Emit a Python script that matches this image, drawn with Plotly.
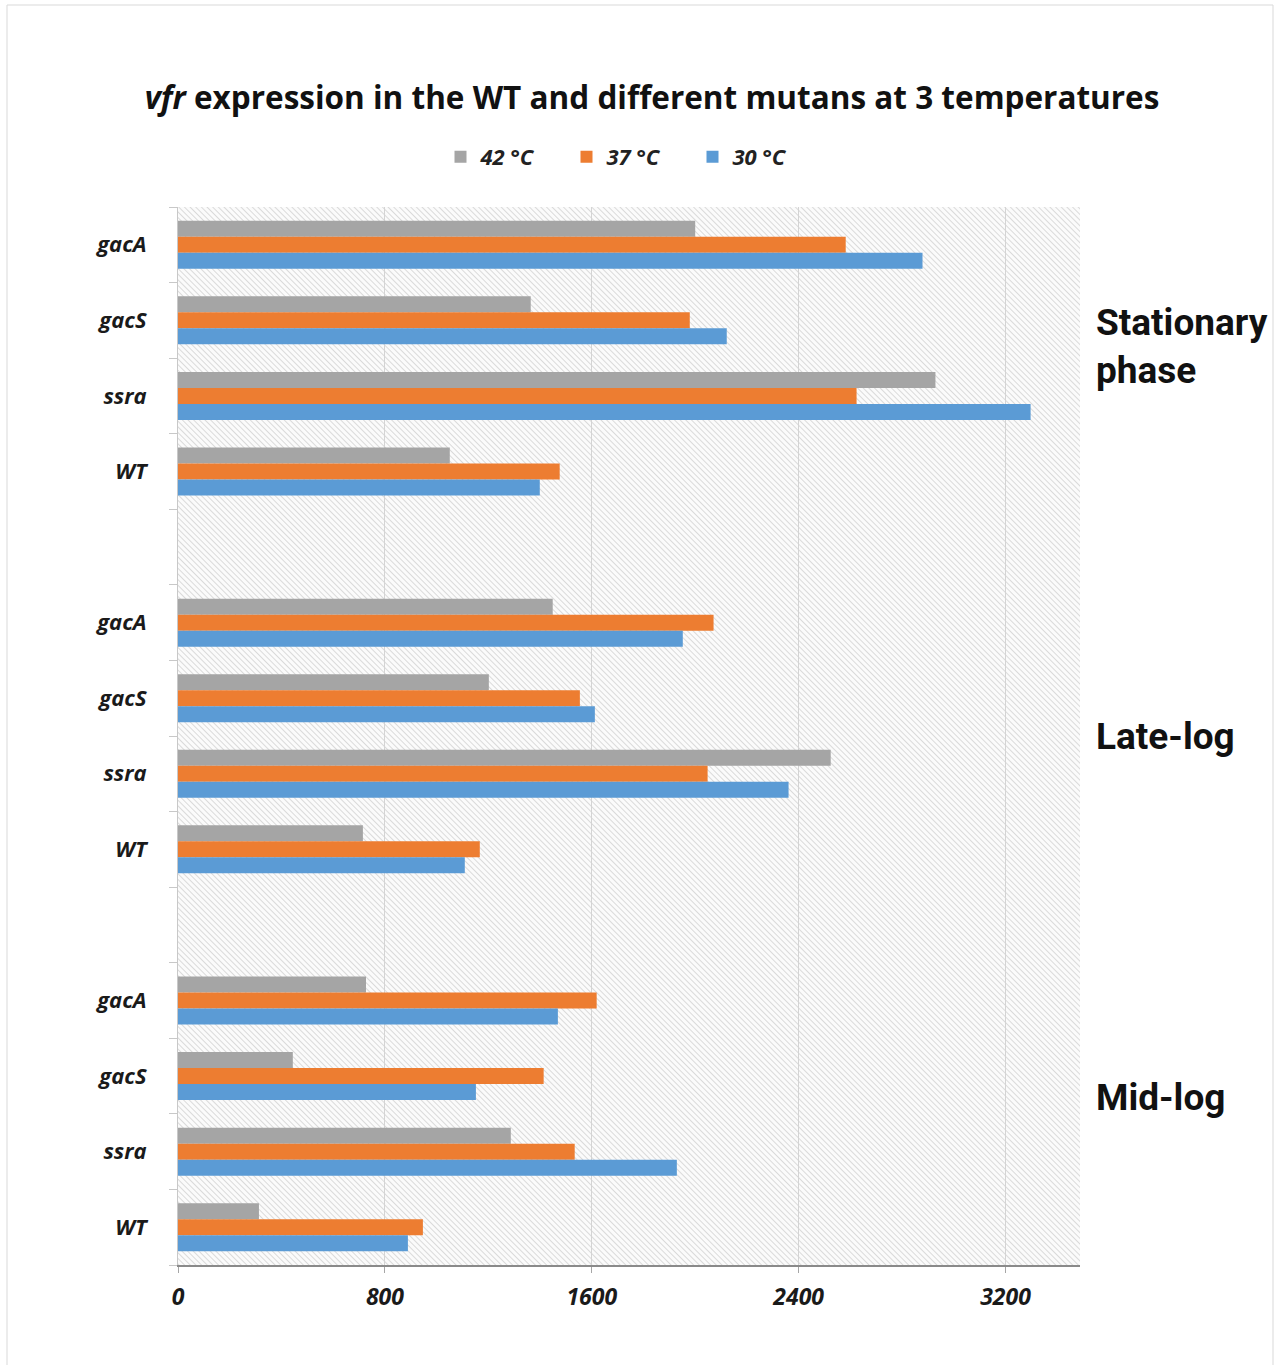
import base64
import plotly.graph_objects as go

# vfr expression per strain, grouped by growth phase (top to bottom)
phases = ["Stationary<br>phase", "Late-log", "Mid-log"]
strains = ["gacA", "gacS", "ssra", "WT"]
series_names = ["42 °C", "37 °C", "30 °C"]
series_colors = ["#A5A5A5", "#ED7D31", "#5B9BD5"]

t42 = [2000, 1364, 2929, 1051, 1449, 1202, 2524, 715, 727, 444, 1287, 313]
t37 = [2582, 1979, 2624, 1476, 2071, 1554, 2048, 1167, 1619, 1414, 1534, 947]
t30 = [2879, 2122, 3297, 1399, 1952, 1612, 2361, 1109, 1469, 1152, 1929, 889]
series_values = [t42, t37, t30]

x_ticks = [0, 800, 1600, 2400, 3200]

# one blank row between phase blocks
rows_per_block = len(strains) + 1
y_pos = [g * rows_per_block + i for g in range(len(phases)) for i in range(len(strains))]
y_text = [s for _ in phases for s in strains]
n_rows = len(phases) * rows_per_block - 1

# vertical anchor (in row units) of each phase label
phase_label_rows = [1.34, 6.5, 11.28]

W, H = 1276, 1365
ML, MR, MT, MB = 178, 196, 207, 100
PW, PH = W - ML - MR, H - MT - MB

fig = go.Figure()
for name, vals, col in zip(series_names, series_values, series_colors):
    fig.add_trace(go.Bar(
        x=vals, y=y_pos, orientation="h", name=name,
        marker=dict(color=col, line=dict(width=0)),
    ))

# diagonal hatch behind the plot area
svg = (
    f'<svg xmlns="http://www.w3.org/2000/svg" width="{PW}" height="{PH}" '
    f'viewBox="0 0 {PW} {PH}" preserveAspectRatio="none">'
    '<defs><pattern id="h" width="4" height="4" patternUnits="userSpaceOnUse" '
    'patternTransform="rotate(-45)">'
    '<rect width="4" height="4" fill="#fbfbfb"/>'
    '<line x1="0" y1="0" x2="0" y2="4" stroke="#d2d2d2" stroke-width="1.6"/>'
    '</pattern></defs><rect width="100%" height="100%" fill="url(#h)"/></svg>'
)
src = "data:image/svg+xml;base64," + base64.b64encode(svg.encode()).decode()
fig.add_layout_image(dict(
    source=src, xref="paper", yref="paper", x=0, y=1, sizex=1, sizey=1,
    xanchor="left", yanchor="top", sizing="stretch", layer="below",
))

# light frame around the whole chart
fig.add_shape(
    type="rect", xref="paper", yref="paper",
    x0=(7 - ML) / PW, x1=(1273 - ML) / PW,
    y0=(H - MB - 1380) / PH, y1=(H - MB - 5) / PH,
    line=dict(color="#d9d9d9", width=1), layer="below",
)

# phase labels on the right
for txt, yy in zip(phases, phase_label_rows):
    fig.add_annotation(
        text=txt, xref="paper", yref="y", x=1.016, y=yy,
        xanchor="left", yanchor="middle", showarrow=False, align="left",
        font=dict(family="Roboto", size=37, color="#111111", weight="bold"),
    )

ytick_font = dict(family="Open Sans", size=22, color="#1a1a1a", style="italic", weight="bold")
xtick_font = dict(family="Open Sans", size=23, color="#1a1a1a", style="italic", weight="bold")

fig.update_layout(
    width=W, height=H,
    margin=dict(l=ML, r=MR, t=MT, b=MB),
    paper_bgcolor="white", plot_bgcolor="white",
    barmode="group", bargap=0.365, bargroupgap=0,
    title=dict(
        text="<b><i>vfr</i> expression in the WT and different mutans at 3 temperatures</b>",
        x=0.511, xref="container", xanchor="center",
        y=1 - 98 / H, yref="container", yanchor="middle",
        font=dict(family="Open Sans", size=31.5, color="#111111"),
    ),
    legend=dict(
        orientation="h", x=(452 + 785 + 22) / 2 / W, xref="container", xanchor="center",
        y=1 - 157 / H, yref="container", yanchor="middle",
        font=dict(family="Open Sans", size=22, color="#222222", style="italic", weight="bold"),
        entrywidth=81, itemwidth=30, traceorder="normal",
    ),
    xaxis=dict(
        range=[0, 3488], tickvals=x_ticks, ticktext=[str(v) for v in x_ticks],
        showgrid=True, gridcolor="#d4d4d4", gridwidth=1, zeroline=False,
        showline=True, linecolor="#8a8a8a", linewidth=2,
        ticks="outside", ticklen=6, tickcolor="#a6a6a6", tickwidth=1,
        tickfont=xtick_font, ticklabelstandoff=4,
    ),
    yaxis=dict(
        range=[n_rows - 0.5, -0.5], tickvals=y_pos, ticktext=y_text,
        showgrid=False, zeroline=False,
        showline=True, linecolor="#c8c8c8", linewidth=1,
        ticks="", tickfont=ytick_font, ticklabelstandoff=26,
        minor=dict(tick0=-0.5, dtick=1, ticks="outside", ticklen=8,
                   tickcolor="#c8c8c8", tickwidth=1, showgrid=False),
    ),
)

fig.write_html("out.html")
